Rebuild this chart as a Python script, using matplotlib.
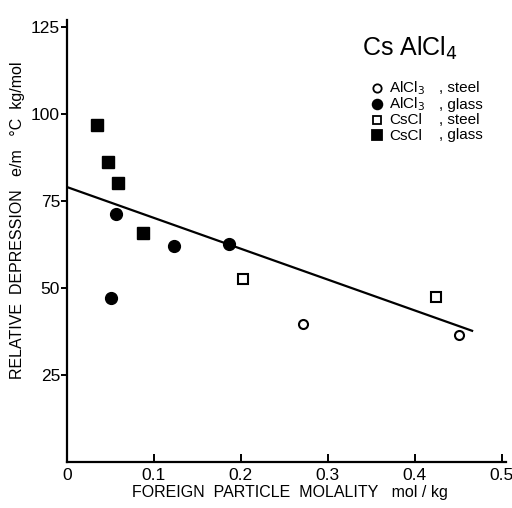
import matplotlib
matplotlib.use("Agg")
import matplotlib.pyplot as plt
import numpy as np

plt.rcParams['font.family'] = ['Liberation Sans', 'DejaVu Sans']

# Data
alcl3_steel_x = [0.271, 0.451]
alcl3_steel_y = [39.7, 36.5]
alcl3_glass_x = [0.051, 0.056, 0.123, 0.186]
alcl3_glass_y = [47.1, 71.3, 62.2, 62.6]
cscl_steel_x = [0.203, 0.425]
cscl_steel_y = [52.6, 47.3]
cscl_glass_x = [0.035, 0.0475, 0.059, 0.087]
cscl_glass_y = [96.8, 86.3, 80.3, 65.7]
fit_x = [0.0, 0.466]
fit_y = [79.0, 37.7]

xticks = [0, 0.1, 0.2, 0.3, 0.4, 0.5]
xticklabels = ['0', '0.1', '0.2', '0.3', '0.4', '0.5']
yticks = [25, 50, 75, 100, 125]

W, H = 512, 508
fig = plt.figure(figsize=(W/100, H/100), dpi=100)
ax = fig.add_axes([67/W, 1-462/H, (506-67)/W, (462-20)/H])
ax.set_xlim(0, 0.505)
ax.set_ylim(0, 127)

ax.plot(fit_x, fit_y, color='black', lw=1.6)
ax.plot(alcl3_steel_x, alcl3_steel_y, 'o', mfc='white', mec='black', mew=1.5, ms=6.5, ls='none')
ax.plot(alcl3_glass_x, alcl3_glass_y, 'o', color='black', ms=8.5, ls='none')
ax.plot(cscl_steel_x, cscl_steel_y, 's', mfc='white', mec='black', mew=1.5, ms=6.5, ls='none')
ax.plot(cscl_glass_x, cscl_glass_y, 's', color='black', ms=8, ls='none')

for s in ['top', 'right']:
    ax.spines[s].set_visible(False)
for s in ['left', 'bottom']:
    ax.spines[s].set_linewidth(1.6)

ax.set_xticks(xticks)
ax.set_xticklabels(xticklabels)
ax.set_yticks(yticks)
ax.tick_params(axis='x', direction='in', length=6, width=1.4, labelsize=12.5, pad=4)
ax.tick_params(axis='y', direction='out', length=4, width=1.4, labelsize=12.5, pad=1)

ax.set_xlabel('FOREIGN  PARTICLE  MOLALITY   mol / kg', fontsize=11.5)
ax.xaxis.set_label_coords((290 - 67) / (506 - 67), -(493 - 462) / (462 - 20))
ax.set_ylabel('RELATIVE  DEPRESSION   e/m   °C  kg/mol', fontsize=11.5)
ax.yaxis.set_label_coords(-(67 - 18) / (506 - 67), (462 - 220) / (462 - 20))
ax.yaxis.label.set_va('center')
ax.xaxis.label.set_va('center')

def px(x, y):
    return x / W, 1 - y / H

fig.text(*px(362, 56), 'Cs AlCl$_4$', fontsize=18, va='baseline')

rows = [
    (88, 'o', 'white', 'AlCl$_3$', ', steel'),
    (104, 'o', 'black', 'AlCl$_3$', ', glass'),
    (119.5, 's', 'white', 'CsCl', ', steel'),
    (135, 's', 'black', 'CsCl', ', glass'),
]
for y, m, fc, lab, sub in rows:
    fig.add_artist(plt.Line2D([377/W], [1 - y/H], marker=m, mfc=fc, mec='black',
                              mew=1.3, ms=6 if fc == 'white' else 7, ls='none',
                              transform=fig.transFigure))
    fig.text(*px(389, y + 4.5), lab, fontsize=11, va='baseline')
    fig.text(*px(439, y + 4.5), sub, fontsize=11, va='baseline')

fig.savefig('out.png', dpi=100)
